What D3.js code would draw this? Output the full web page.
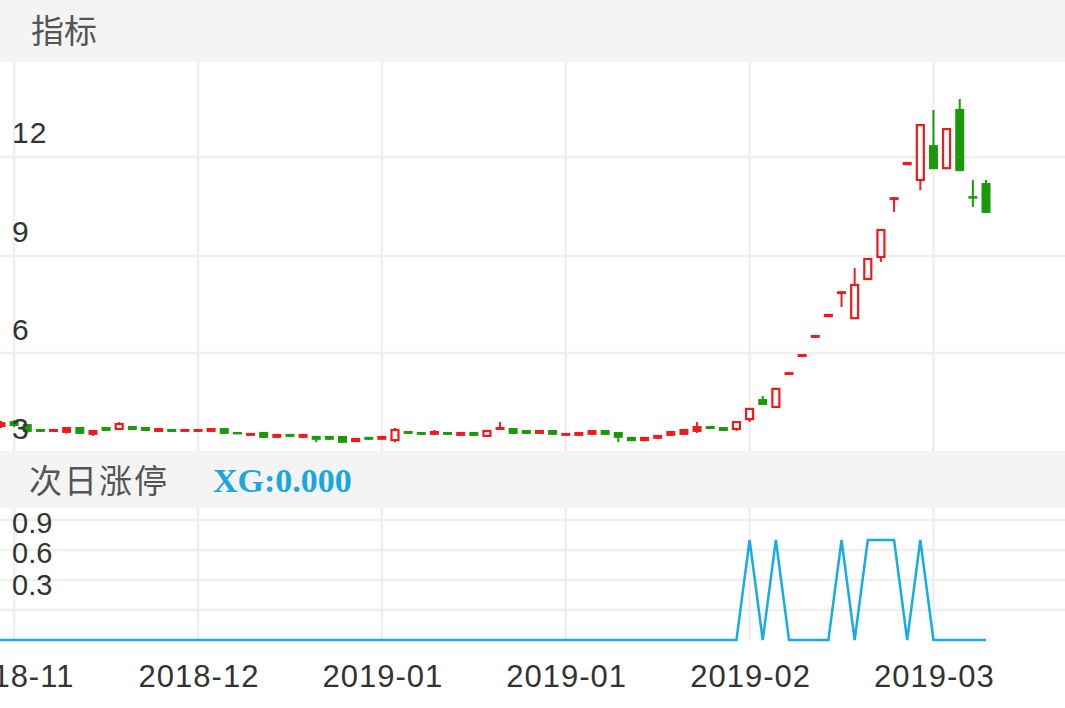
<!DOCTYPE html>
<html><head><meta charset="utf-8">
<script src="https://cdn.jsdelivr.net/npm/d3@7"></script>
<style>body{margin:0;background:#fff}svg{display:block}</style>
</head><body>
<script>
// [open, close, low, high]
const candles = [
[3.03,3.18,3.00,3.21],[3.21,3.06,3.03,3.24],[3.12,2.88,2.85,3.12],[2.97,2.88,2.88,2.97],[2.88,2.97,2.88,2.97],
[2.85,3.03,2.83,3.03],[3.03,2.82,2.82,3.03],[2.79,2.94,2.76,2.94],[3.03,2.91,2.91,3.03],[2.94,3.15,2.94,3.18],
[3.06,2.94,2.94,3.06],[3.03,2.91,2.91,3.03],[2.88,3.00,2.88,3.00],[2.97,2.88,2.88,2.97],[2.88,2.97,2.88,2.97],
[2.88,2.97,2.88,2.97],[2.88,3.00,2.88,3.00],[3.00,2.82,2.82,3.00],[2.88,2.82,2.82,2.88],[2.76,2.85,2.76,2.85],
[2.88,2.70,2.70,2.88],[2.70,2.82,2.70,2.82],[2.82,2.73,2.73,2.82],[2.70,2.82,2.70,2.82],[2.76,2.64,2.57,2.76],
[2.76,2.64,2.64,2.76],[2.76,2.55,2.55,2.76],[2.57,2.70,2.57,2.70],[2.73,2.64,2.64,2.73],[2.64,2.76,2.64,2.76],
[2.60,2.97,2.57,3.00],[2.91,2.82,2.82,2.91],[2.88,2.79,2.79,2.88],[2.79,2.91,2.79,2.94],[2.88,2.79,2.79,2.88],
[2.76,2.88,2.76,2.88],[2.88,2.76,2.76,2.88],[2.73,2.94,2.73,2.94],[2.94,3.03,2.94,3.18],[3.00,2.82,2.82,3.00],
[2.94,2.82,2.82,2.94],[2.82,2.94,2.82,2.94],[2.94,2.79,2.79,2.94],[2.76,2.85,2.76,2.85],[2.76,2.88,2.76,2.88],
[2.79,2.94,2.79,2.94],[2.94,2.79,2.79,2.94],[2.88,2.70,2.57,2.88],[2.73,2.60,2.60,2.73],[2.60,2.73,2.60,2.73],
[2.67,2.79,2.67,2.79],[2.76,2.91,2.76,2.91],[2.79,2.97,2.79,2.97],[2.88,3.06,2.85,3.18],[3.06,2.97,2.97,3.06],
[3.03,2.91,2.91,3.03],[2.94,3.21,2.91,3.21],[3.24,3.61,3.18,3.61],[3.88,3.70,3.70,3.97],[3.61,4.22,3.61,4.22],
[4.61,4.70,4.61,4.70],[5.16,5.25,5.16,5.25],[5.74,5.83,5.74,5.83],[6.37,6.47,6.37,6.47],[7.07,7.16,6.68,7.16],
[6.31,7.38,6.31,7.86],[7.50,8.17,7.50,8.17],[8.17,9.05,8.05,9.05],[9.93,10.02,9.57,10.02],[10.99,11.09,10.99,11.09],
[10.51,12.24,10.23,12.24],[11.60,10.87,10.87,12.67],[10.87,12.12,10.87,12.12],[12.70,10.81,10.81,13.00],[10.05,9.99,9.72,10.54],
[10.45,9.54,9.54,10.54]
];
const signal = candles.map((d,i)=>[57,59,64,66,67,68,70].includes(i)?1:0);
const xTickIdx = [1,15,29,43,57,71];
const xTickLabels = ["2018-11","2018-12","2019-01","2019-01","2019-02","2019-03"];
const yTicks = [3,6,9,12];
const sigTicks = [0.3,0.6,0.9];

const W=1065,H=708;
const svg=d3.select("body").append("svg").attr("width",W).attr("height",H);
const cjk="'Noto Sans CJK SC',sans-serif";
const lat="'Liberation Sans',Arial,sans-serif";
const x=d3.scaleLinear().domain([0,candles.length-1]).range([1,986]);
const y=d3.scaleLinear().domain([3,12]).range([428,132]);
const ys=d3.scaleLinear().domain([0,1]).range([640,540]);

svg.append("rect").attr("x",0).attr("y",0).attr("width",W).attr("height",62).attr("fill","#f4f4f4");
svg.append("rect").attr("x",0).attr("y",451).attr("width",W).attr("height",57).attr("fill","#f4f4f4");
svg.append("text").attr("x",31).attr("y",43).attr("font-size",33).attr("fill","#555").attr("font-family",cjk).text("指标");
svg.append("text").attr("x",29).attr("y",493).attr("font-size",33).attr("letter-spacing",2).attr("fill","#555").attr("font-family",cjk).text("次日涨停");
svg.append("text").attr("x",213).attr("y",492).attr("font-size",34).attr("font-weight","bold").attr("fill","#1aa7e0").attr("font-family","'Liberation Serif',serif").text("XG:0.000");

const g=svg.append("g").attr("stroke","#efefef").attr("stroke-width",2.5);
[157,256,353].forEach(v=>g.append("line").attr("x1",0).attr("x2",W).attr("y1",v).attr("y2",v));
[520,550,580,610].forEach(v=>g.append("line").attr("x1",0).attr("x2",W).attr("y1",v).attr("y2",v));
xTickIdx.forEach(i=>{
  g.append("line").attr("x1",x(i)).attr("x2",x(i)).attr("y1",62).attr("y2",451);
  g.append("line").attr("x1",x(i)).attr("x2",x(i)).attr("y1",508).attr("y2",640);
});

const up="#f01a1a",dn="#1a9a0a",bw=9;
const cg=svg.append("g");
candles.forEach((d,i)=>{
  const [o,c,l,h]=d, isUp=c>=o, col=isUp?up:dn, cx=x(i);
  const top=y(Math.max(o,c)), bot=y(Math.min(o,c));
  const bh=Math.max(bot-top,2.5);
  cg.append("line").attr("x1",cx).attr("x2",cx).attr("y1",y(h)).attr("y2",y(l)).attr("stroke",col).attr("stroke-width",2);
  if(isUp && bh>6){
    cg.append("rect").attr("x",cx-bw/2+1).attr("y",top+1).attr("width",bw-2).attr("height",bh-2).attr("fill","#fff").attr("stroke",col).attr("stroke-width",2.2);
  } else {
    cg.append("rect").attr("x",cx-bw/2).attr("y",top).attr("width",bw).attr("height",bh).attr("fill",col);
  }
});

yTicks.forEach(v=>svg.append("text").attr("x",12).attr("y",y(v)+11).attr("font-size",30).attr("letter-spacing",1).attr("fill","#333").attr("font-family",lat).text(v));
const sigLabelY={0.9:533,0.6:563,0.3:595};
sigTicks.forEach(v=>svg.append("text").attr("x",12).attr("y",sigLabelY[v]).attr("font-size",29).attr("fill","#333").attr("font-family",lat).text(v.toFixed(1)));

svg.append("path").datum(signal).attr("fill","none").attr("stroke","#16ade6").attr("stroke-width",2.5)
  .attr("d",d3.line().x((d,i)=>x(i)).y(d=>ys(d)));
svg.append("line").attr("x1",0).attr("x2",x(0)).attr("y1",640).attr("y2",640).attr("stroke","#16ade6").attr("stroke-width",2.5);

xTickIdx.forEach((i,k)=>svg.append("text").attr("x",x(i)+1).attr("y",687).attr("text-anchor","middle").attr("font-size",31).attr("letter-spacing",1).attr("fill","#333").attr("font-family",lat).text(xTickLabels[k]));
</script>
</body></html>
